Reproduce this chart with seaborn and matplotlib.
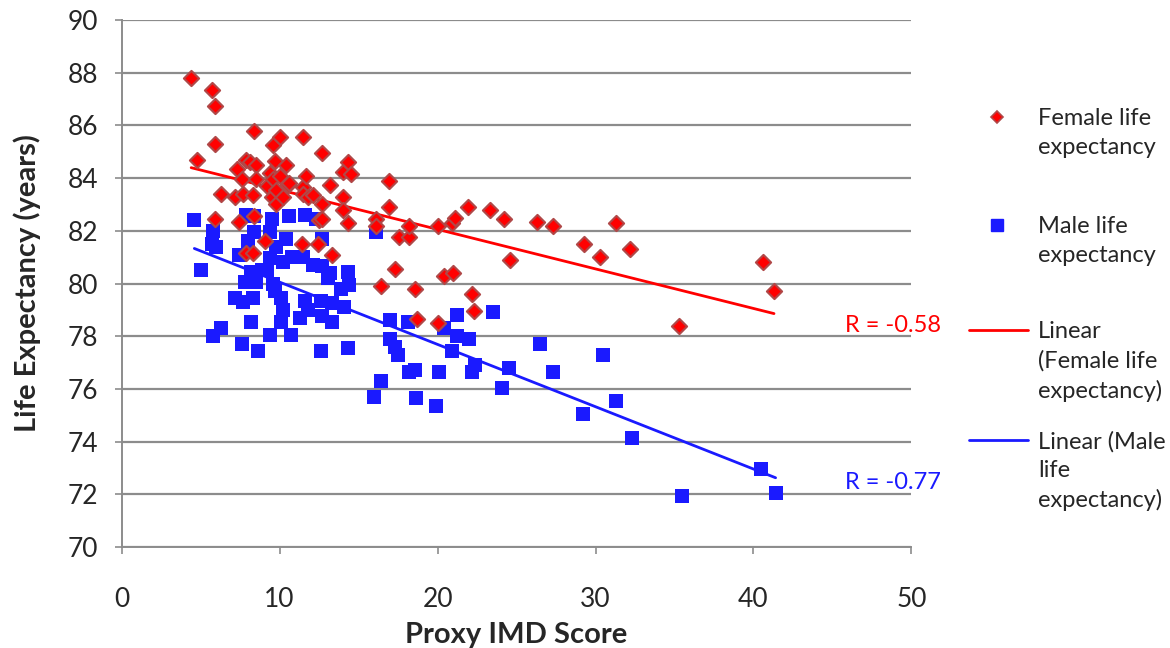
import matplotlib
matplotlib.use("Agg")
import matplotlib.pyplot as plt
from matplotlib.lines import Line2D
import seaborn as sns
import numpy as np
import pandas as pd

# values (Proxy IMD score, life expectancy)
female_x = [4.4, 4.8, 5.7, 5.9, 5.9, 5.9, 6.3, 7.15, 7.3, 7.4, 7.6, 7.7, 7.85, 7.9, 8.1,
            8.3, 8.3, 8.35, 8.4, 8.5, 8.5, 9.05, 9.2, 9.4, 9.5, 9.6, 9.6, 9.7, 9.8, 9.8,
            10.0, 10.0, 10.2, 10.4, 10.5, 10.6, 11.4, 11.5, 11.5, 11.5, 11.7, 11.8, 12.1,
            12.4, 12.5, 12.7, 12.7, 12.7, 13.2, 13.3, 14.0, 14.0, 14.0, 14.3, 14.5, 14.3,
            16.1, 16.1, 16.4, 16.9, 16.9, 17.3, 17.55, 18.2, 18.2, 18.6, 18.7, 20.0, 20.0,
            20.4, 20.9, 21.0, 21.1, 21.9, 22.2, 22.3, 23.3, 24.2, 24.6, 26.3, 27.3, 29.3,
            30.3, 31.3, 32.2, 35.3, 40.6, 41.3]
female_y = [87.8, 84.7, 87.35, 86.75, 85.3, 82.45, 83.4, 83.3, 84.35, 82.35, 83.95, 83.4,
            84.7, 81.15, 84.6, 83.35, 81.15, 82.55, 85.8, 84.5, 83.95, 81.6, 83.7, 84.2,
            83.3, 85.25, 83.95, 84.65, 83.55, 83.0, 85.55, 84.1, 83.3, 84.5, 83.75, 83.8,
            81.5, 85.55, 83.65, 83.4, 84.1, 83.3, 83.35, 81.5, 82.4, 84.95, 83.0, 82.45,
            83.75, 81.1, 84.25, 83.3, 82.8, 84.6, 84.15, 82.3, 82.45, 82.2, 79.9, 83.9,
            82.9, 80.55, 81.75, 81.75, 82.2, 79.8, 78.65, 78.5, 82.2, 80.3, 82.3, 80.4,
            82.5, 82.9, 79.6, 78.95, 82.8, 82.45, 80.9, 82.35, 82.2, 81.5, 81.0, 82.3,
            81.3, 78.4, 80.8, 79.7]

male_x = [4.6, 5.0, 5.7, 5.8, 5.8, 6.0, 6.3, 7.2, 7.4, 7.6, 7.7, 7.8, 7.9, 8.0, 8.2, 8.2,
          8.3, 8.4, 8.4, 8.5, 8.6, 8.9, 9.2, 9.4, 9.4, 9.4, 9.5, 9.6, 9.7, 9.8, 10.1, 10.1,
          10.2, 10.2, 10.4, 10.6, 10.7, 10.8, 11.3, 11.5, 11.6, 11.6, 11.8, 12.1, 12.3,
          12.6, 12.6, 12.7, 12.7, 12.7, 13.05, 13.2, 13.3, 13.3, 13.9, 14.1, 14.3, 14.3,
          14.4, 16.0, 16.1, 16.4, 17.0, 17.0, 17.3, 17.5, 18.1, 18.2, 18.6, 18.65, 19.9,
          20.1, 20.4, 20.9, 21.2, 21.2, 22.0, 22.2, 22.4, 23.5, 24.1, 24.5, 26.5, 27.3,
          29.2, 30.5, 31.3, 32.3, 35.5, 40.5, 41.4]
male_y = [82.4, 80.5, 81.5, 82.0, 78.0, 81.4, 78.3, 79.45, 81.1, 77.7, 79.3, 80.05, 82.6,
          81.6, 80.45, 78.55, 79.45, 82.55, 81.95, 80.05, 77.45, 80.5, 80.5, 80.95, 81.95,
          78.05, 82.45, 80.0, 79.7, 81.4, 79.45, 78.55, 80.8, 79.0, 81.7, 82.55, 78.05,
          81.0, 78.7, 81.0, 82.6, 79.35, 79.0, 80.7, 82.45, 79.35, 77.45, 81.7, 80.65,
          78.75, 80.2, 80.4, 79.25, 78.55, 79.8, 79.1, 80.45, 77.55, 79.95, 75.7, 81.95,
          76.3, 78.6, 77.9, 77.6, 77.3, 78.55, 76.65, 76.7, 75.65, 75.35, 76.65, 78.3,
          77.45, 78.0, 78.8, 77.9, 76.65, 76.9, 78.9, 76.05, 76.8, 77.7, 76.65, 75.05,
          77.3, 75.55, 74.15, 71.95, 72.95, 72.05]

legend_labels = ["Female life\nexpectancy", "Male life\nexpectancy",
                 "Linear\n(Female life\nexpectancy)", "Linear (Male\nlife\nexpectancy)"]

female = pd.DataFrame({"imd": female_x, "le": female_y})
male = pd.DataFrame({"imd": male_x, "le": male_y})

sns.set_theme(style="white")
plt.rcParams["font.family"] = ["Lato", "DejaVu Sans"]

RED = "#ff0000"
BLUE = "#1a1aff"
EDGE = "#b04848"
GRID = "#8c8c8c"

fig = plt.figure(figsize=(11.7, 6.48), dpi=100)
ax = fig.add_axes([0.104, 0.156, 0.675, 0.813])

# fitted trend lines (drawn under the points like Excel does)
sns.regplot(data=female, x="imd", y="le", ax=ax, scatter=False, ci=None,
            line_kws={"color": RED, "lw": 2, "zorder": 2})
sns.regplot(data=male, x="imd", y="le", ax=ax, scatter=False, ci=None,
            line_kws={"color": BLUE, "lw": 2, "zorder": 2})

sns.scatterplot(data=male, x="imd", y="le", ax=ax, marker="s", s=100,
                color=BLUE, edgecolor=BLUE, linewidth=0, zorder=3)
sns.scatterplot(data=female, x="imd", y="le", ax=ax, marker="D", s=60,
                color=RED, edgecolor=EDGE, linewidth=1.5, zorder=4)

ax.text(45.8, 78.4, "R = -0.58", color=RED, fontsize=17, va="center", clip_on=False)
ax.text(45.8, 72.45, "R = -0.77", color=BLUE, fontsize=17, va="center", clip_on=False)

ax.set_xlim(0, 50)
ax.set_ylim(70, 90)
ax.set_xticks(np.arange(0, 51, 10))
ax.set_yticks(np.arange(70, 91, 2))
ax.yaxis.grid(True, color=GRID, lw=1.6)
ax.set_axisbelow(True)
for side in ["top", "right"]:
    ax.spines[side].set_visible(False)
for side in ["left", "bottom"]:
    ax.spines[side].set_color(GRID)
    ax.spines[side].set_linewidth(1.4)
ax.tick_params(axis="both", which="major", labelsize=19, length=5, width=1.2,
               color=GRID, direction="out", left=True, bottom=True)
ax.tick_params(axis="x", pad=24)
ax.tick_params(axis="y", pad=12)

ax.set_xlabel("Proxy IMD Score", fontsize=21, fontweight="bold", va="center")
ax.set_ylabel("Life Expectancy (years)", fontsize=21, fontweight="bold", va="center")
ax.xaxis.set_label_coords(0.5, -0.168)
ax.yaxis.set_label_coords(-0.119, 0.5)

# Excel-style legend: handle aligned with the first text line of each entry
entry_rows = [117, 225, 330, 440]  # pixel rows of the first text line
handles = [
    Line2D([], [], ls="none", marker="D", ms=6, mfc=RED, mec=EDGE, mew=1.2),
    Line2D([], [], ls="none", marker="s", ms=8, mfc=BLUE, mec=BLUE),
    Line2D([], [], color=RED, lw=2),
    Line2D([], [], color=BLUE, lw=2),
]
W, H = 1170, 648
for i, (h, lab, row) in enumerate(zip(handles, legend_labels, entry_rows)):
    yf = 1 - row / H
    if i < 2:
        fig.add_artist(Line2D([997 / W], [yf], ls="none", marker=h.get_marker(),
                              ms=h.get_markersize(), mfc=h.get_markerfacecolor(),
                              mec=h.get_markeredgecolor(), mew=h.get_markeredgewidth()))
    else:
        fig.add_artist(Line2D([969 / W, 1028 / W], [yf, yf], color=h.get_color(), lw=2))
    fig.text(1038 / W, yf + 9 / H, lab, fontsize=17, va="top", ha="left",
             linespacing=1.45)

fig.savefig("out.png", dpi=100)
